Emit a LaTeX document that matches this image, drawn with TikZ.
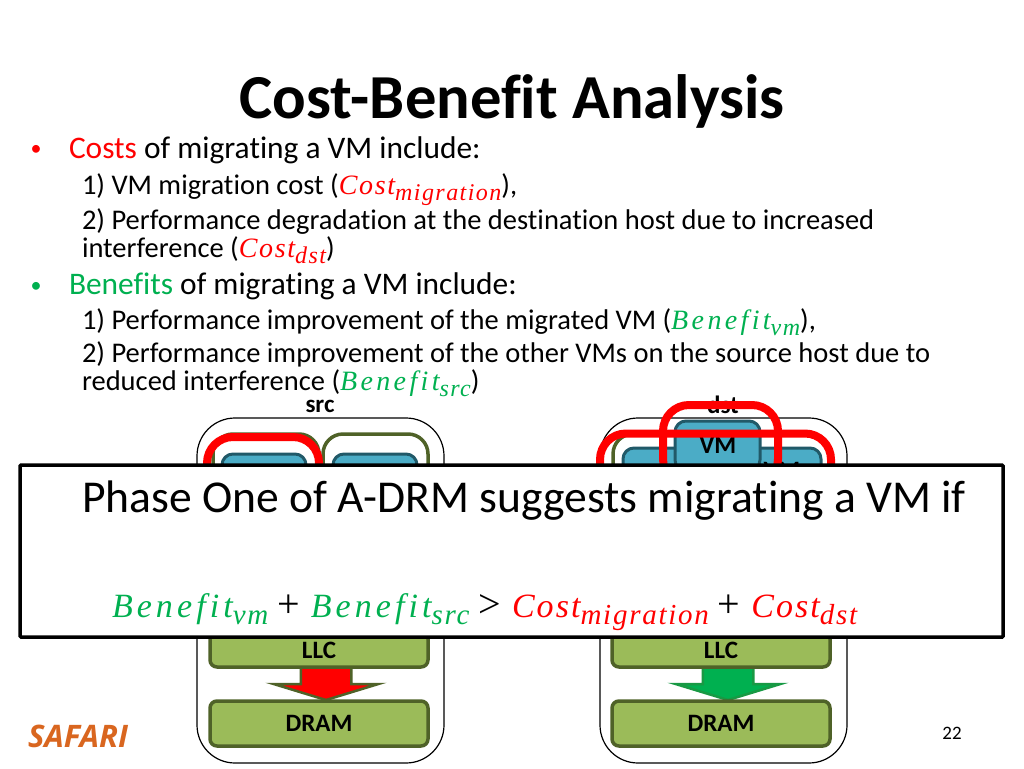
\documentclass[tikz,border=0pt]{standalone}
\usepackage{fontspec}
\setmainfont[Ligatures=NoCommon]{Carlito}
\newfontfamily\logofont{Open Sans}
\newfontfamily\varfont[LetterSpace=6]{Liberation Serif}
\newfontfamily\varwidefont[LetterSpace=12]{Liberation Serif}
\usetikzlibrary{shapes.arrows}
\definecolor{olivedark}{HTML}{4F6228}
\definecolor{olivefill}{HTML}{9BBB59}
\definecolor{vmfill}{HTML}{4BACC6}
\definecolor{vmline}{HTML}{215968}
\definecolor{costred}{HTML}{FF0000}
\definecolor{benefitgreen}{HTML}{00B050}
\definecolor{logoorange}{HTML}{D9661F}
\newcommand{\vartxt}[2]{{\fontsize{28}{28}\selectfont\varfont\itshape #1\raisebox{-6pt}{\fontsize{24}{24}\selectfont #2}}}
\newcommand{\bigvartxt}[2]{{\fontsize{34}{34}\selectfont\varfont\itshape #1\raisebox{-7pt}{\fontsize{29}{29}\selectfont #2}}}
\newcommand{\vartxtwide}[2]{{\fontsize{28}{28}\selectfont\varwidefont\itshape #1\raisebox{-6pt}{\fontsize{24}{24}\selectfont\varfont\itshape #2}}}
\newcommand{\bigvartxtwide}[2]{{\fontsize{34}{34}\selectfont\varwidefont\itshape #1\raisebox{-7pt}{\fontsize{29}{29}\selectfont\varfont\itshape #2}}}
\newcommand{\opsym}[1]{\hspace{9pt}{\fontsize{40}{40}\selectfont\varfont #1}\hspace{11pt}}
\tikzset{
  txt/.style={anchor=base west,inner sep=0pt,outer sep=0pt,font=\fontsize{#1}{#1}\selectfont},
  boxlabel/.style={inner sep=0pt,font=\fontsize{25}{25}\selectfont\bfseries},
  hostbox/.style={draw=black,line width=1.2pt,rounded corners=38pt,anchor=north west,inner sep=0pt,outer sep=0pt},
  corebox/.style={draw=olivedark,line width=3.5pt,rounded corners=20pt,anchor=north west,inner sep=0pt,outer sep=0pt},
  redbox/.style={draw=costred,line width=8pt,rounded corners=26pt,anchor=north west,inner sep=0pt,outer sep=0pt},
  vmbox/.style={draw=vmline,fill=vmfill,line width=3pt,rounded corners=11pt,anchor=north west,inner sep=0pt,outer sep=0pt},
  membox/.style={draw=olivedark,fill=olivefill,line width=3.5pt,rounded corners=7pt,minimum width=218pt,anchor=north west,inner sep=0pt,outer sep=0pt,font=\fontsize{25}{25}\selectfont\bfseries},
  flowarrow/.style={single arrow,draw=olivedark,line width=2.5pt,shape border rotate=270,minimum height=35pt,minimum width=104pt,
    single arrow head extend=27pt,single arrow tip angle=146,single arrow head indent=0pt,inner xsep=24pt,inner ysep=0pt,outer sep=0pt,anchor=tip}
}
\begin{document}
\begin{tikzpicture}[x=1pt,y=-1pt]
\useasboundingbox (0,0) rectangle (1024,768);
% title and text
\node[txt=63,font=\fontsize{62.6}{63}\selectfont\bfseries,anchor=base] (title) at (512,118) {Cost-Benefit Analysis};
\node[txt=22,text=costred,anchor=base] (bulletcost) at (36,155) {•};
\node[txt=31.4] (costs) at (69,158) {\textcolor{costred}{Costs} of migrating a VM include:};
\node[txt=28.5] (costa) at (82,194) {1) VM migration cost (\textcolor{costred}{\vartxt{Cost}{migration}}),};
\node[txt=28.5] (costb) at (82,229) {2) Performance degradation at the destination host due to increased};
\node[txt=28.5] (costc) at (82,257) {interference (\textcolor{costred}{\vartxt{Cost}{dst}})};
\node[txt=22,text=benefitgreen,anchor=base] (bulletbenefit) at (36,292) {•};
\node[txt=31.4] (benefits) at (69,294) {\textcolor{benefitgreen}{Benefits} of migrating a VM include:};
\node[txt=28.5] (benefita) at (82,329) {1) Performance improvement of the migrated VM (\textcolor{benefitgreen}{\vartxtwide{Benefit}{vm}}),};
\node[txt=28.5] (benefitb) at (82,362) {2) Performance improvement of the other VMs on the source host due to};
\node[txt=28.5] (benefitc) at (82,390) {reduced interference (\textcolor{benefitgreen}{\vartxtwide{Benefit}{src}})};
% src host
\node[boxlabel] (srclabel) at (320,406) {src};
\node[hostbox,minimum width=247pt,minimum height=345pt] (srchost) at (197,418) {};
\node[corebox,minimum width=106pt,minimum height=80pt] (srccorea) at (213,434) {};
\node[corebox,minimum width=105pt,minimum height=80pt] (srccoreb) at (323,434) {};
\node[vmbox,minimum width=84pt,minimum height=50pt] (srcvma) at (222,454) {};
\node[vmbox,minimum width=84pt,minimum height=50pt] (srcvmb) at (333,454) {};
\node[redbox,minimum width=112pt,minimum height=80pt] (srcred) at (207,437) {};
\node[flowarrow,fill=costred] (srcflow) at (326,700) {};
\node[membox,minimum height=35pt] (srcllc) at (210,632) {};
\node[boxlabel] at (319,650) (srcllctxt) {LLC};
\node[membox,minimum height=45pt] (srcdram) at (210,701) {DRAM};
% dst host
\node[boxlabel] (dstlabel) at (723,405) {dst};
\node[hostbox,minimum width=247pt,minimum height=345pt] (dsthost) at (600,418) {};
\node[corebox,minimum width=106pt,minimum height=80pt] (dstcorea) at (613,434) {};
\node[corebox,minimum width=105pt,minimum height=80pt] (dstcoreb) at (725,434) {};
\node[vmbox,minimum width=84pt,minimum height=50pt] (dstvma) at (623,448) {};
\node[vmbox,minimum width=84pt,minimum height=50pt] (dstvmb) at (737,448) {};
\node[boxlabel] (dstvmbtxt) at (782,470) {VM};
\node[vmbox,minimum width=85pt,minimum height=50pt] (dstvmc) at (675,421) {};
\node[boxlabel] (dstvmctxt) at (718,445) {VM};
\node[redbox,minimum width=115pt,minimum height=80pt] (dstredtop) at (663,405) {};
\node[redbox,minimum width=231pt,minimum height=80pt] (dstred) at (600,433.5) {};
\node[flowarrow,fill=benefitgreen,draw=benefitgreen!70!olivedark] (dstflow) at (728,700) {};
\node[membox,minimum height=35pt] (dstllc) at (612,632) {};
\node[boxlabel] at (721,650) (dstllctxt) {LLC};
\node[membox,minimum height=45pt] (dstdram) at (612,701) {DRAM};
% overlay
\node[draw=black,fill=white,line width=3.5pt,rounded corners=1pt,minimum width=983pt,minimum height=172pt,anchor=north west,inner sep=0pt,outer sep=0pt] (overlay) at (20,465) {};
\node[txt=45.6] (phase) at (82,512) {Phase One of A-DRM suggests migrating a VM if};
\node[txt=34] (formula) at (112,617) {\textcolor{benefitgreen}{\bigvartxtwide{Benefit}{vm}}\opsym{+}\textcolor{benefitgreen}{\bigvartxtwide{Benefit}{src}}\opsym{>}\textcolor{costred}{\bigvartxt{Cost}{migration}}\opsym{+}\textcolor{costred}{\bigvartxt{Cost}{dst}}};
% footer
\node[txt=31,font=\fontsize{31}{31}\selectfont\logofont\bfseries\itshape,text=logoorange] (safari) at (28,747) {SAFARI};
\node[txt=19,anchor=base] (pagenum) at (952,739) {22};
\end{tikzpicture}
\end{document}
